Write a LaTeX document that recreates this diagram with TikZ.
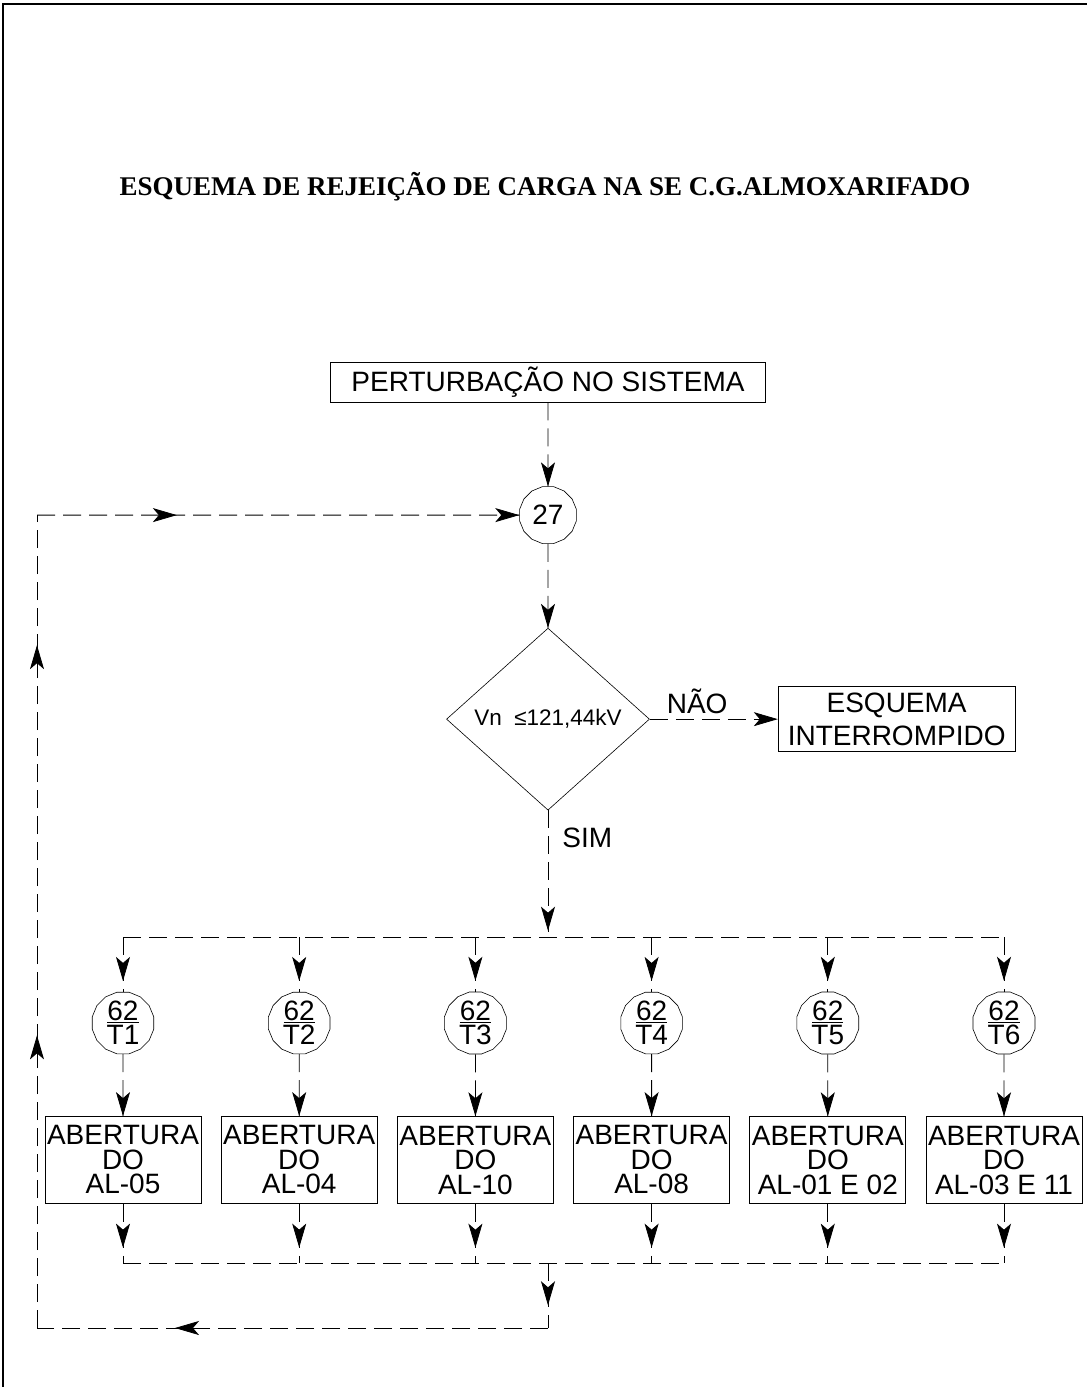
\documentclass[tikz,border=0pt]{standalone}
\usepackage{fontspec}
\setmainfont{Liberation Sans}
\newfontfamily\fonteTitulo{Liberation Serif}
\usepackage{tikz}
\usetikzlibrary{arrows.meta,positioning,shapes.geometric,decorations.markings}
\tikzset{
    >={Stealth[length=24pt, width=14pt, inset=6pt]},
    bloco/.style={
        rectangle,
        draw,
        line width=0.7pt,
        align=center,
        inner sep=0pt,
        font=\fontsize{28}{24.5}\selectfont
    },
    rele/.style={
        regular polygon,
        regular polygon sides=16,
        draw,
        line width=0.6pt,
        align=center,
        inner sep=0pt,
        minimum size=60pt,
        font=\fontsize{28}{24}\selectfont
    },
    decisao/.style={
        diamond,
        draw,
        line width=0.6pt,
        inner sep=0pt,
        minimum width=203pt,
        minimum height=182pt,
        font=\fontsize{22.5}{24}\selectfont
    },
    rotulo/.style={inner sep=0pt, font=\fontsize{28}{30}\selectfont},
    tracejado/.style={line width=0.8pt, dash pattern=on 18pt off 8pt},
    seta/.style={
        tracejado,
        decoration={markings, mark=at position #1 with {\arrow[solid]{>}}},
        postaction={decorate}
    },
    seta/.default=1,
    setaDupla/.style 2 args={
        tracejado,
        decoration={markings,
            mark=at position #1 with {\arrow[solid]{>}},
            mark=at position #2 with {\arrow[solid]{>}}},
        postaction={decorate}
    }
}

\begin{document}
\begin{tikzpicture}[x=1pt, y=-1pt, node distance=84pt]
    \useasboundingbox (0,0) rectangle (1087,1387);
    \draw[line width=1.4pt] (1087,4) -- (3,4) -- (3,1387);

    \node[font=\fonteTitulo\bfseries\fontsize{27}{30}\selectfont] (titulo) at (545,187)
        {ESQUEMA DE REJEIÇÃO DE CARGA NA SE C.G.ALMOXARIFADO};

    \node[bloco, minimum width=435pt, minimum height=40pt] (pert) at (548,382)
        {PERTURBAÇÃO NO SISTEMA};
    \node[rele, minimum size=58pt, below=of pert] (r27) {27};
    \node[decisao, below=of r27] (dec) {Vn\ \ ≤121,44kV};
    \node[bloco, minimum width=237pt, minimum height=65pt, right=128pt of dec,
          font=\fontsize{28}{33}\selectfont] (fim) {ESQUEMA\\INTERROMPIDO};

    \coordinate (barraA) at (548,937);
    \coordinate (barraB) at (548,1263);
    \coordinate[below=65pt of barraB] (retornoA);
    \coordinate (retornoB) at (37,1328);

    \node[rele] (rele1) at (123,1023) {\underline{62}\\T1};
    \node[rele] (rele2) at (299.2,1023) {\underline{62}\\T2};
    \node[rele] (rele3) at (475.4,1023) {\underline{62}\\T3};
    \node[rele] (rele4) at (651.6,1023) {\underline{62}\\T4};
    \node[rele] (rele5) at (827.8,1023) {\underline{62}\\T5};
    \node[rele] (rele6) at (1004,1023) {\underline{62}\\T6};

    \node[bloco, minimum width=156pt, minimum height=87pt, below=62pt of rele1] (abre1)
        {ABERTURA\\DO\\AL-05};
    \node[bloco, minimum width=156pt, minimum height=87pt, below=62pt of rele2] (abre2)
        {ABERTURA\\DO\\AL-04};
    \node[bloco, minimum width=156pt, minimum height=87pt, below=62pt of rele3] (abre3)
        {ABERTURA\\DO\\AL-10};
    \node[bloco, minimum width=156pt, minimum height=87pt, below=62pt of rele4] (abre4)
        {ABERTURA\\DO\\AL-08};
    \node[bloco, minimum width=156pt, minimum height=87pt, below=62pt of rele5] (abre5)
        {ABERTURA\\DO\\AL-01 E 02};
    \node[bloco, minimum width=156pt, minimum height=87pt, below=62pt of rele6] (abre6)
        {ABERTURA\\DO\\AL-03 E 11};

    \draw[seta] (pert) -- (r27);
    \draw[seta] (r27) -- (dec);
    \draw[seta] (dec) -- node[rotulo, pos=0.37, above=5pt] {NÃO} (fim);
    \draw[seta=0.95] (dec) -- node[rotulo, pos=0.215, right=14pt] {SIM} (barraA);

    \draw[tracejado] (rele1 |- barraA) -- (rele6 |- barraA);
    \draw[seta=0.8] (rele1 |- barraA) -- (rele1);
    \draw[seta=0.8] (rele2 |- barraA) -- (rele2);
    \draw[seta=0.8] (rele3 |- barraA) -- (rele3);
    \draw[seta=0.8] (rele4 |- barraA) -- (rele4);
    \draw[seta=0.8] (rele5 |- barraA) -- (rele5);
    \draw[seta=0.8] (rele6 |- barraA) -- (rele6);

    \draw[seta] (rele1) -- (abre1);
    \draw[seta] (rele2) -- (abre2);
    \draw[seta] (rele3) -- (abre3);
    \draw[seta] (rele4) -- (abre4);
    \draw[seta] (rele5) -- (abre5);
    \draw[seta] (rele6) -- (abre6);

    \draw[seta=0.74] (abre1) -- (abre1 |- barraB);
    \draw[seta=0.74] (abre2) -- (abre2 |- barraB);
    \draw[seta=0.74] (abre3) -- (abre3 |- barraB);
    \draw[seta=0.74] (abre4) -- (abre4 |- barraB);
    \draw[seta=0.74] (abre5) -- (abre5 |- barraB);
    \draw[seta=0.74] (abre6) -- (abre6 |- barraB);
    \draw[tracejado] (abre1 |- barraB) -- (abre6 |- barraB);

    \draw[seta=0.65] (barraB) -- (retornoA);
    \draw[seta=0.73] (retornoA) -- (retornoB);
    \draw[setaDupla={0.36}{0.84}] (retornoB) -- (retornoB |- r27);
    \draw[setaDupla={0.29}{1}] (retornoB |- r27) -- (r27);
\end{tikzpicture}
\end{document}
